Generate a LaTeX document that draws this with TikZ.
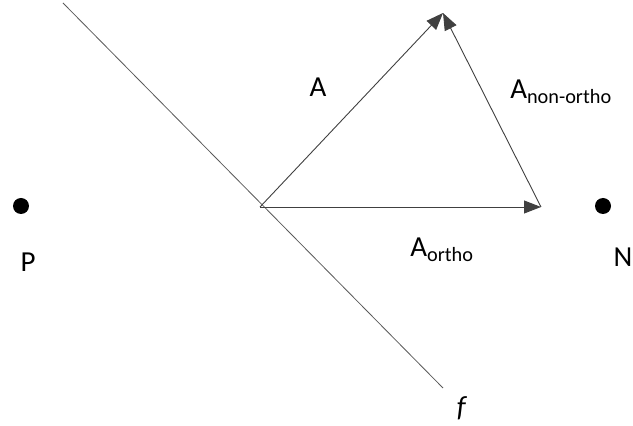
\documentclass[tikz,border=0pt]{standalone}
\usepackage{fontspec}
\setmainfont{Carlito}
\usetikzlibrary{arrows.meta}
\definecolor{vecGray}{RGB}{64,64,64}
\definecolor{lineGray}{RGB}{90,90,90}
\tikzset{
  vec/.style={-{Triangle[length=17pt,width=13pt]}, line width=0.9pt, draw=lineGray, color=vecGray},
  plane/.style={draw=lineGray, line width=0.8pt},
  pt/.style={circle, fill=black, inner sep=0pt, minimum size=16pt},
  lbl/.style={font=\fontsize{29}{34}\selectfont, inner sep=0pt}
}

\begin{document}
\begin{tikzpicture}[x=1pt,y=1pt]
  \useasboundingbox (0,0) rectangle (633,426);
  \coordinate (o) at (260,219);
  \coordinate (tip) at (443,413);
  \coordinate (r) at (541,219);
  \coordinate (f1) at (63,423);
  \coordinate (f2) at (443,38);

  \node[pt] (p) at (21,220) {};
  \node[pt] (n) at (603,220) {};
  \node[lbl] (plbl) at (28,164) {P};
  \node[lbl] (nlbl) at (623,169) {N};

  \draw[plane] (f1) -- (f2);
  \draw[vec] (o) -- (tip);
  \draw[vec] (o) -- (r);
  \draw[vec] (r) -- (tip);

  \node[lbl] (alab) at (318,339) {A};
  \node[lbl] (nonlab) at (561,334) {A\textsubscript{non-ortho}};
  \node[lbl] (ortholab) at (442,176) {A\textsubscript{ortho}};
  \node[lbl] (flab) at (462,18) {\textit{f}};
\end{tikzpicture}
\end{document}
